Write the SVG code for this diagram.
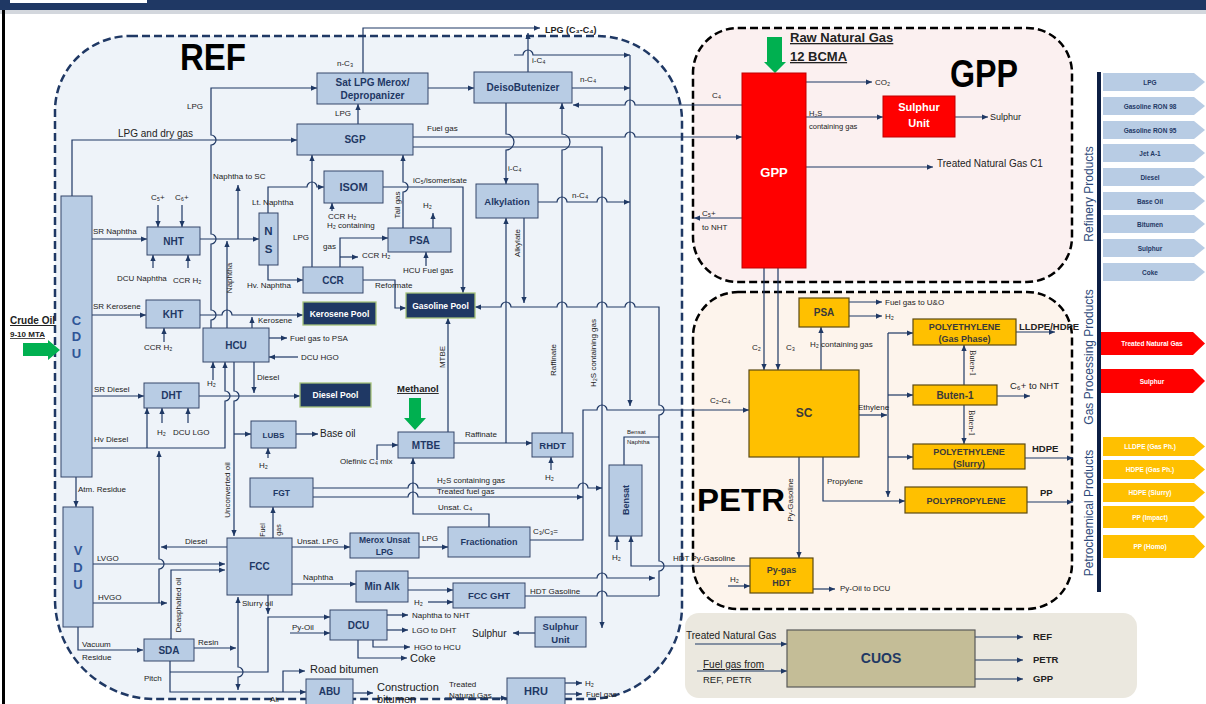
<svg xmlns="http://www.w3.org/2000/svg" width="1206" height="704" viewBox="0 0 1206 704">
<defs>
<marker id="ah" viewBox="0 0 8 8" refX="8" refY="4" markerWidth="6" markerHeight="6" orient="auto" markerUnits="userSpaceOnUse"><path d="M0,0.5 L8,4 L0,7.5 Z" fill="#1f3864"/></marker>
<style>
.n rect{fill:#b8cce4;stroke:#34466a;stroke-width:1}
.n text,.p text,.r text,.y text,.cu text{font-family:"Liberation Sans",Arial,sans-serif;font-weight:bold;text-anchor:middle}
.n text{fill:#1f3864}
.p rect{fill:#1f3864;stroke:#a6c27a;stroke-width:1.3}
.p text{fill:#fff}
.r rect{fill:#ff0000;stroke:#c00000;stroke-width:1}
.r text{fill:#fff}
.y rect{fill:#ffc000;stroke:#5c4a12;stroke-width:1.2}
.y text{fill:#3a3a3a}
.cu rect{fill:#c4bd97;stroke:#595959;stroke-width:1.2}
.cu text{fill:#1f3864}
.l{font-family:"Liberation Sans",Arial,sans-serif;font-size:8px;fill:#222}
.c path{fill:none;stroke:#1f3864;stroke-width:1.2}
.a{marker-end:url(#ah)}
.big{font-family:"Liberation Sans",Arial,sans-serif;font-weight:bold;fill:#000}
.ck{font-family:"Liberation Sans",Arial,sans-serif;font-size:6.5px;font-weight:bold;text-anchor:middle}
.gr{fill:#00b050}
.ttl{font-family:"Liberation Sans",Arial,sans-serif;font-size:12px;fill:#2e4a7a;text-anchor:middle}
</style>
</defs>
<rect width="1206" height="704" fill="#fff"/>
<!-- header -->
<rect x="0" y="0" width="1206" height="10" fill="#1f3864"/>
<rect x="0" y="10" width="1206" height="4" fill="#a8b0bc" opacity="0.5"/>
<rect x="10" y="0" width="137" height="3" fill="#fff"/>
<rect x="2" y="10" width="3" height="694" fill="#000"/>

<!-- regions -->
<g id="regions">
<path d="M130,36 H597 A85,85 0 0 1 682,121 V606 A93,93 0 0 1 589,699 H155 A100,100 0 0 1 55,599 V111 A75,75 0 0 1 130,36 Z" fill="#eef3f9" stroke="#1f3864" stroke-width="2.5" stroke-dasharray="8 4"/>
<path d="M738,28 H1027 A45,45 0 0 1 1072,73 V237 A45,45 0 0 1 1027,282 H738 A45,45 0 0 1 693,237 V73 A45,45 0 0 1 738,28 Z" fill="#fbf0f0" stroke="#000" stroke-width="2.5" stroke-dasharray="8 4"/>
<path d="M738,292 H1027 A45,45 0 0 1 1072,337 V564 A45,45 0 0 1 1027,609 H738 A45,45 0 0 1 693,564 V337 A45,45 0 0 1 738,292 Z" fill="#fdf4ec" stroke="#000" stroke-width="2.5" stroke-dasharray="8 4"/>
<rect x="685" y="613" width="452" height="85" rx="14" fill="#ebe8df"/>
</g>
<text class="big" x="180" y="70" font-size="36" textLength="66" lengthAdjust="spacingAndGlyphs">REF</text>
<text class="big" x="950" y="87" font-size="38" textLength="68" lengthAdjust="spacingAndGlyphs">GPP</text>
<text class="big" x="697" y="511" font-size="32" textLength="88" lengthAdjust="spacingAndGlyphs">PETR</text>

<!-- connectors -->
<g id="connectors" class="c">
<path class="a" d="M211,328 V320 a5,5 0 0 0 0,-10 V244 a5,5 0 0 0 0,-10 V145 a5,5 0 0 0 0,-10 V88 H317"/>
<path class="a" d="M72,196 V140 H297"/>
<path class="a" d="M92,239 H147"/>
<path class="a" d="M158,205 V227"/>
<path class="a" d="M182,205 V227"/>
<path class="a" d="M153,268 V255"/>
<path class="a" d="M188,268 V255"/>
<path class="a" d="M200,239 H259"/>
<path class="a" d="M238,239 V185"/>
<path class="a" d="M227,328 V241"/>
<path class="a" d="M268,213 V187 H307 a5,5 0 0 1 10,0 H324"/>
<path class="a" d="M268,265 V280 H303"/>
<path class="a" d="M312,267 V155"/>
<path class="a" d="M332,211 V203"/>
<path class="a" d="M340,267 V238 H388"/>
<path class="a" d="M340,257 H358"/>
<path class="a" d="M403,228 V192 a5,5 0 0 0 0,-10 V155"/>
<path class="a" d="M383,187 H463 V293"/>
<path class="a" d="M433,228 V213"/>
<path class="a" d="M426,266 V252"/>
<path class="a" d="M363,280 H395 V308 H406"/>
<path class="a" d="M358,124 V104"/>
<path class="a" d="M363,73 V28 H540"/>
<path class="a" d="M428,88 H474"/>
<path class="a" d="M528,72 V33"/>
<path class="a" d="M514,55 H523 a5,5 0 0 1 10,0 H630"/>
<path class="a" d="M572,88 H630"/>
<path class="a" d="M742,105 H635 a5,5 0 0 0 -10,0 H573"/>
<path class="a" d="M413,137 H625 a5,5 0 0 1 10,0 H742"/>
<path class="a" d="M413,147 H602 V628"/>
<path class="a" d="M506,103 V134 a8,8 0 0 1 0,16 V184"/>
<path class="a" d="M562,433 V150 a8,8 0 0 0 0,-16 V103"/>
<path class="a" d="M538,202 H557 a5,5 0 0 1 10,0 H597 a5,5 0 0 1 10,0 H630"/>
<path class="a" d="M524,218 V303"/>
<path class="a" d="M454,443 H532"/>
<path class="a" d="M506,443 V218"/>
<path class="a" d="M659,596 V571 a5,5 0 0 0 0,-10 V415 a5,5 0 0 0 0,-10 V307 H635 a5,5 0 0 0 -10,0 H607 a5,5 0 0 0 -10,0 H567 a5,5 0 0 0 -10,0 H511 a5,5 0 0 0 -10,0 H475"/>
<path class="a" d="M530,540 H583 V410 H597 a5,5 0 0 1 10,0 H749"/>
<path class="a" d="M630,55 V406"/>
<path class="a" d="M313,488 H408 a5,5 0 0 1 10,0 H578 a5,5 0 0 1 10,0 H602"/>
<path class="a" d="M313,497 H408 a5,5 0 0 1 10,0 H583"/>
<path class="a" d="M489,527 V514 H413 V458"/>
<path class="a" d="M377,460 V445 H398"/>
<path class="a" d="M448,432 V318"/>
<path class="a" d="M551,470 V457"/>
<path class="a" d="M92,315 H146"/>
<path class="a" d="M200,315 H222 a5,5 0 0 1 10,0 H303"/>
<path class="a" d="M164,342 V328"/>
<path class="a" d="M252,328 V317"/>
<path class="a" d="M269,338 H287"/>
<path class="a" d="M298,357 H269"/>
<path class="a" d="M213,380 V362"/>
<path class="a" d="M92,448 H225 V401 a5,5 0 0 0 0,-10 V362"/>
<path class="a" d="M234,362 V391 a5,5 0 0 1 0,10 V536"/>
<path class="a" d="M234,434 H251"/>
<path class="a" d="M254,362 V393"/>
<path class="a" d="M92,396 H144"/>
<path class="a" d="M199,396 H300"/>
<path class="a" d="M147,448 V408"/>
<path class="a" d="M162,423 V408"/>
<path class="a" d="M188,423 V408"/>
<path class="a" d="M296,434 H318"/>
<path class="a" d="M268,458 V448"/>
<path class="a" d="M159,603 V569 a5,5 0 0 0 0,-10 V451"/>
<path class="a" d="M227,547 H161"/>
<path class="a" d="M93,564 H225"/>
<path class="a" d="M93,603 H167"/>
<path class="a" d="M171,639 V570 H225"/>
<path class="a" d="M76,477 V507"/>
<path class="a" d="M78,627 V650 H143"/>
<path class="a" d="M194,648 H236"/>
<path class="a" d="M238,648 V597"/>
<path class="a" d="M238,648 V667 a5,5 0 0 1 0,10 V690"/>
<path class="a" d="M273,538 V507"/>
<path class="a" d="M268,595 V614"/>
<path class="a" d="M170,661 V692 H306"/>
<path class="a" d="M170,672 H268 V617 H330"/>
<path class="a" d="M290,633 H330"/>
<path class="a" d="M283,692 V671 H305"/>
<path class="a" d="M353,693 H373"/>
<path class="a" d="M445,698 H507"/>
<path class="a" d="M565,683 H582"/>
<path class="a" d="M565,694 H582"/>
<path class="a" d="M292,547 H350"/>
<path class="a" d="M419,547 H448"/>
<path class="a" d="M292,584 H356"/>
<path class="a" d="M408,590 H453"/>
<path class="a" d="M428,602 H453"/>
<path class="a" d="M408,578 H597 a5,5 0 0 1 10,0 H655"/>
<path d="M525,596 H597 a5,5 0 0 1 10,0 H659"/>
<path class="a" d="M387,615 H408"/>
<path class="a" d="M387,630 H408"/>
<path class="a" d="M373,640 V647 H410"/>
<path class="a" d="M358,640 V658 H407"/>
<path class="a" d="M535,633 H513"/>
<path d="M624,465 V437 H659"/>
<path class="a" d="M750,566 H631 V536"/>
<path class="a" d="M617,550 V536"/>
<path class="a" d="M742,218 H694"/>
<!-- GPP -->
<path class="a" d="M806,82 H872"/>
<path class="a" d="M806,117 H883"/>
<path class="a" d="M955,117 H988"/>
<path class="a" d="M806,167 H933"/>
<path class="a" d="M764,268 V370"/>
<path class="a" d="M778,268 V370"/>
<!-- PETR -->
<path class="a" d="M821,370 V327"/>
<path class="a" d="M849,302 H882"/>
<path class="a" d="M849,316 H882"/>
<path class="a" d="M859,415 H887"/>
<path class="a" d="M888,333 V497"/>
<path class="a" d="M888,333 H913"/>
<path class="a" d="M888,395 H913"/>
<path class="a" d="M888,457 H913"/>
<path class="a" d="M1016,332 H1055"/>
<path class="a" d="M964,385 V345"/>
<path class="a" d="M964,405 V444"/>
<path class="a" d="M997,396 H1030"/>
<path class="a" d="M1025,458 H1073"/>
<path class="a" d="M1027,502 H1073"/>
<path class="a" d="M823,457 V501 H905"/>
<path class="a" d="M799,457 V558"/>
<path class="a" d="M728,586 H750"/>
<path class="a" d="M813,589 H835"/>
<!-- CUOS -->
<path class="a" d="M695,644 H787"/>
<path class="a" d="M697,671 H787"/>
<path class="a" d="M975,637 H1023"/>
<path class="a" d="M975,660 H1023"/>
<path class="a" d="M975,679 H1023"/>
</g>

<!-- green feed arrows -->
<polygon class="gr" points="23,343 48,343 48,340 60,350 48,360 48,356 23,356"/>
<polygon class="gr" points="767,37 782,37 782,62 786,62 775,73 764,62 767,62"/>
<polygon class="gr" points="409,398 421,398 421,418 426,418 415,430 404,418 409,418"/>

<!-- REF nodes -->
<g id="n-cdu" class="n"><rect x="61" y="196" width="31" height="281"/><text x="76.5" y="325" font-size="13" style="fill:#2f5597">C</text><text x="76.5" y="341" font-size="13" style="fill:#2f5597">D</text><text x="76.5" y="358" font-size="13" style="fill:#2f5597">U</text></g>
<g id="n-vdu" class="n"><rect x="63" y="507" width="30" height="120"/><text x="78" y="555" font-size="13" style="fill:#2f5597">V</text><text x="78" y="572" font-size="13" style="fill:#2f5597">D</text><text x="78" y="589" font-size="13" style="fill:#2f5597">U</text></g>
<g id="n-nht" class="n"><rect x="147" y="227" width="53" height="28"/><text x="173.5" y="244.5" font-size="10">NHT</text></g>
<g id="n-kht" class="n"><rect x="146" y="300" width="54" height="28"/><text x="173" y="317.5" font-size="10">KHT</text></g>
<g id="n-dht" class="n"><rect x="144" y="383" width="55" height="25"/><text x="171.5" y="399" font-size="10">DHT</text></g>
<g id="n-hcu" class="n"><rect x="203" y="328" width="66" height="34"/><text x="236" y="348.5" font-size="10">HCU</text></g>
<g id="n-ns" class="n"><rect x="259" y="213" width="19" height="52"/><text x="268.5" y="235" font-size="11.5">N</text><text x="268.5" y="253" font-size="11.5">S</text></g>
<g id="n-isom" class="n"><rect x="324" y="171" width="59" height="32"/><text x="353.5" y="191" font-size="11">ISOM</text></g>
<g id="n-sgp" class="n"><rect x="297" y="124" width="116" height="31"/><text x="355" y="143" font-size="10">SGP</text></g>
<g id="n-satlpg" class="n"><rect x="317" y="73" width="111" height="31"/><text x="372.5" y="86" font-size="10">Sat LPG Merox/</text><text x="372.5" y="99" font-size="10">Depropanizer</text></g>
<g id="n-deiso" class="n"><rect x="474" y="72" width="98" height="31"/><text x="523" y="91" font-size="10">DeisoButenizer</text></g>
<g id="n-alky" class="n"><rect x="476" y="184" width="62" height="34"/><text x="507" y="204.5" font-size="9.5">Alkylation</text></g>
<g id="n-psa-ref" class="n"><rect x="388" y="228" width="63" height="24"/><text x="419.5" y="243.5" font-size="10">PSA</text></g>
<g id="n-ccr" class="n"><rect x="303" y="267" width="60" height="26"/><text x="333" y="283.5" font-size="10">CCR</text></g>
<g id="n-lubs" class="n"><rect x="251" y="421" width="45" height="27"/><text x="273.5" y="437.5" font-size="8">LUBS</text></g>
<g id="n-mtbe" class="n"><rect x="398" y="432" width="56" height="26"/><text x="426" y="448.5" font-size="10">MTBE</text></g>
<g id="n-rhdt" class="n"><rect x="532" y="433" width="41" height="24"/><text x="552.5" y="448.5" font-size="9.5">RHDT</text></g>
<g id="n-fgt" class="n"><rect x="250" y="478" width="63" height="29"/><text x="281.5" y="495.5" font-size="8.5">FGT</text></g>
<g id="n-fcc" class="n"><rect x="227" y="538" width="65" height="57"/><text x="259.5" y="570" font-size="10">FCC</text></g>
<g id="n-merox" class="n"><rect x="350" y="533" width="69" height="25"/><text x="384.5" y="543" font-size="8.5">Merox Unsat</text><text x="384.5" y="555" font-size="8.5">LPG</text></g>
<g id="n-frac" class="n"><rect x="448" y="527" width="82" height="30"/><text x="489" y="545" font-size="9">Fractionation</text></g>
<g id="n-minalk" class="n"><rect x="356" y="571" width="52" height="31"/><text x="382" y="590" font-size="10">Min Alk</text></g>
<g id="n-fccght" class="n"><rect x="453" y="583" width="72" height="25"/><text x="489" y="599" font-size="9.5">FCC GHT</text></g>
<g id="n-dcu" class="n"><rect x="330" y="610" width="57" height="30"/><text x="358.5" y="628.5" font-size="10">DCU</text></g>
<g id="n-su-ref" class="n"><rect x="535" y="617" width="51" height="30"/><text x="560.5" y="630" font-size="9.5">Sulphur</text><text x="560.5" y="643" font-size="9.5">Unit</text></g>
<g id="n-sda" class="n"><rect x="144" y="639" width="50" height="22"/><text x="169" y="653.5" font-size="10">SDA</text></g>
<g id="n-abu" class="n"><rect x="306" y="679" width="47" height="28"/><text x="329.5" y="695" font-size="10">ABU</text></g>
<g id="n-hru" class="n"><rect x="507" y="678" width="58" height="28"/><text x="536" y="695" font-size="11">HRU</text></g>
<g id="n-bensat" class="n"><rect x="609" y="465" width="33" height="71"/><text transform="translate(629,500) rotate(-90)" font-size="9">Bensat</text></g>
<g id="n-kpool" class="p"><rect x="303" y="302" width="73" height="23"/><text x="339.5" y="316.5" font-size="8.5">Kerosene Pool</text></g>
<g id="n-gpool" class="p"><rect x="406" y="293" width="69" height="25"/><text x="440.5" y="308.5" font-size="8.5">Gasoline Pool</text></g>
<g id="n-dpool" class="p"><rect x="300" y="383" width="71" height="24"/><text x="335.5" y="398" font-size="8.5">Diesel Pool</text></g>

<!-- GPP nodes -->
<g id="n-gpp" class="r"><rect x="742" y="73" width="64" height="195"/><text x="774" y="177" font-size="13">GPP</text></g>
<g id="n-su-gpp" class="r"><rect x="883" y="96" width="72" height="41"/><text x="919" y="111" font-size="11">Sulphur</text><text x="919" y="127" font-size="11">Unit</text></g>

<!-- PETR nodes -->
<g id="n-sc" class="y"><rect x="749" y="370" width="110" height="87"/><text x="804" y="417" font-size="12">SC</text></g>
<g id="n-psa-petr" class="y"><rect x="799" y="298" width="50" height="29"/><text x="824" y="316" font-size="10">PSA</text></g>
<g id="n-pe-gas" class="y"><rect x="913" y="319" width="103" height="26"/><text x="964.5" y="329.5" font-size="9">POLYETHYLENE</text><text x="964.5" y="341.5" font-size="9">(Gas Phase)</text></g>
<g id="n-buten" class="y"><rect x="913" y="385" width="84" height="20"/><text x="955" y="398.5" font-size="10">Buten-1</text></g>
<g id="n-pe-slurry" class="y"><rect x="913" y="444" width="112" height="25"/><text x="969" y="455" font-size="9">POLYETHYLENE</text><text x="969" y="467" font-size="9">(Slurry)</text></g>
<g id="n-pp" class="y"><rect x="905" y="487" width="122" height="26"/><text x="966" y="503.5" font-size="9">POLYPROPYLENE</text></g>
<g id="n-pygas" class="y"><rect x="750" y="558" width="63" height="35"/><text x="781.5" y="573" font-size="9">Py-gas</text><text x="781.5" y="586" font-size="9">HDT</text></g>

<!-- CUOS -->
<g id="n-cuos" class="cu"><rect x="787" y="630" width="188" height="57"/><text x="881" y="663" font-size="14">CUOS</text></g>

<!-- labels -->
<g id="labels" class="l">
<text x="10" y="324" font-size="10" font-weight="bold" text-decoration="underline">Crude Oil</text>
<text x="10" y="337" font-size="8" font-weight="bold" text-decoration="underline">9-10 MTA</text>
<text x="187" y="109">LPG</text>
<text x="118" y="136.5" font-size="10">LPG and dry gas</text>
<text x="213" y="179">Naphtha to SC</text>
<text x="151" y="200">C₅+</text>
<text x="175" y="200">C₆+</text>
<text x="252" y="205">Lt. Naphtha</text>
<text x="93" y="234">SR Naphtha</text>
<text x="293" y="240">LPG</text>
<text x="117" y="281">DCU Naphtha</text>
<text x="173" y="283">CCR H₂</text>
<text transform="translate(232,278) rotate(-90)" text-anchor="middle">Naphtha</text>
<text x="247" y="288">Hv. Naphtha</text>
<text x="93" y="309">SR Kerosene</text>
<text x="258" y="323">Kerosene</text>
<text x="144" y="350">CCR H₂</text>
<text x="290" y="341">Fuel gas to PSA</text>
<text x="301" y="360">DCU HGO</text>
<text x="207" y="386">H₂</text>
<text x="257" y="380">Diesel</text>
<text x="94" y="392">SR Diesel</text>
<text x="157" y="435">H₂</text>
<text x="173" y="435">DCU LGO</text>
<text x="94" y="442">Hv Diesel</text>
<text x="320" y="437" font-size="10">Base oil</text>
<text x="259" y="468">H₂</text>
<text x="78" y="492">Atm. Residue</text>
<text transform="translate(230,490) rotate(-90)" text-anchor="middle">Unconverted oil</text>
<text transform="translate(265,530) rotate(-90)" text-anchor="middle" font-size="7">Fuel</text>
<text transform="translate(281,530) rotate(-90)" text-anchor="middle" font-size="7">gas</text>
<text x="97" y="561">LVGO</text>
<text x="98" y="600">HVGO</text>
<text x="185" y="544">Diesel</text>
<text transform="translate(181,605) rotate(-90)" text-anchor="middle">Deasphalted oil</text>
<text x="242" y="606">Slurry oil</text>
<text x="82" y="647">Vacuum</text>
<text x="82" y="660">Residue</text>
<text x="198" y="645">Resin</text>
<text x="144" y="681">Pitch</text>
<text x="292" y="630">Py-Oil</text>
<text x="270" y="702">Air</text>
<text x="310" y="673" font-size="11">Road bitumen</text>
<text x="377" y="691" font-size="11">Construction</text>
<text x="377" y="703" font-size="11">bitumen</text>
<text x="449" y="687">Treated</text>
<text x="449" y="698">Natural Gas</text>
<text x="585" y="686">H₂</text>
<text x="586" y="697">Fuel gas</text>
<text x="297" y="544">Unsat. LPG</text>
<text x="422" y="541">LPG</text>
<text x="438" y="510">Unsat. C₄</text>
<text x="533" y="534">C₃/C₃=</text>
<text x="437" y="483">H₂S containing gas</text>
<text x="437" y="494">Treated fuel gas</text>
<text x="545" y="480">H₂</text>
<text x="303" y="580">Naphtha</text>
<text x="530" y="594">HDT Gasoline</text>
<text x="414" y="605">H₂</text>
<text x="412" y="618">Naphtha to NHT</text>
<text x="412" y="633">LGO to DHT</text>
<text x="414" y="650">HGO to HCU</text>
<text x="410" y="662" font-size="11">Coke</text>
<text x="472" y="637" font-size="10">Sulphur</text>
<text x="627" y="434" font-size="6">Bensat</text>
<text x="627" y="444" font-size="6">Naphtha</text>
<text x="612" y="560">H₂</text>
<text x="673" y="561">HDT Py-Gasoline</text>
<text x="710" y="403">C₂-C₄</text>
<text x="340" y="464">Olefinic C₄ mix</text>
<text x="465" y="437">Raffinate</text>
<text x="397" y="392" font-size="9.5" font-weight="bold" text-decoration="underline">Methanol</text>
<text transform="translate(445,357) rotate(-90)" text-anchor="middle">MTBE</text>
<text transform="translate(556,360) rotate(-90)" text-anchor="middle">Raffinate</text>
<text transform="translate(596,353) rotate(-90)" text-anchor="middle">H₂S containing gas</text>
<text transform="translate(520,243) rotate(-90)" text-anchor="middle">Alkylate</text>
<text transform="translate(400,205) rotate(-90)" text-anchor="middle">Tail gas</text>
<text x="375" y="288">Reformate</text>
<text x="403" y="273">HCU Fuel gas</text>
<text x="362" y="258">CCR H₂</text>
<text x="327" y="228">H₂ containing</text>
<text x="323" y="249">gas</text>
<text x="328" y="219">CCR H₂</text>
<text x="423" y="208">H₂</text>
<text x="413" y="183">iC₅/isomerisate</text>
<text x="427" y="131">Fuel gas</text>
<text x="335" y="116">LPG</text>
<text x="337" y="66">n-C₃</text>
<text x="545" y="33" font-size="9" font-weight="bold">LPG (C₃-C₄)</text>
<text x="532" y="63">i-C₄</text>
<text x="580" y="82">n-C₄</text>
<text x="508" y="171">i-C₄</text>
<text x="572" y="198">n-C₄</text>
<text x="712" y="98">C₄</text>
<!-- GPP labels -->
<text x="790" y="42" font-size="13" font-weight="bold" text-decoration="underline">Raw Natural Gas</text>
<text x="790" y="61" font-size="13" font-weight="bold" text-decoration="underline">12 BCMA</text>
<text x="875" y="85">CO₂</text>
<text x="809" y="116" font-size="7.5">H₂S</text>
<text x="809" y="129" font-size="7.5">containing gas</text>
<text x="990" y="120" font-size="9">Sulphur</text>
<text x="937" y="167" font-size="10">Treated Natural  Gas C1</text>
<text x="702" y="216">C₅+</text>
<text x="702" y="230">to NHT</text>
<text x="752" y="350">C₂</text>
<text x="786" y="350">C₃</text>
<!-- PETR labels -->
<text x="885" y="305">Fuel gas to U&amp;O</text>
<text x="885" y="319">H₂</text>
<text x="810" y="347">H₂ containing gas</text>
<text x="858" y="410">Ethylene</text>
<text x="1019" y="330" font-size="9.5" font-weight="bold">LLDPE/HDPE</text>
<text transform="translate(970,363) rotate(90)" text-anchor="middle" font-family="Liberation Serif, serif">Buten-1</text>
<text transform="translate(969,423) rotate(90)" text-anchor="middle" font-family="Liberation Serif, serif">Buten-1</text>
<text x="1010" y="389" font-size="9.5">C₆+ to NHT</text>
<text x="1032" y="452" font-size="9.5" font-weight="bold">HDPE</text>
<text x="1040" y="496" font-size="9.5" font-weight="bold">PP</text>
<text x="827" y="484">Propylene</text>
<text transform="translate(793,500) rotate(-90)" text-anchor="middle">Py-Gasoline</text>
<text x="730" y="582">H₂</text>
<text x="840" y="591">Py-Oil to DCU</text>
<!-- CUOS labels -->
<text x="686" y="639" font-size="10">Treated Natural  Gas</text>
<text x="703" y="668" font-size="10" text-decoration="underline">Fuel gas from</text>
<text x="703" y="683" font-size="9.5">REF, PETR</text>
<text x="1033" y="640" font-size="9.5" font-weight="bold">REF</text>
<text x="1033" y="663" font-size="9.5" font-weight="bold">PETR</text>
<text x="1033" y="682" font-size="9.5" font-weight="bold">GPP</text>
</g>

<!-- product legend -->
<g id="products">
<rect x="1097" y="72" width="4" height="520" fill="#0d1f44"/>
<text class="ttl" transform="translate(1093,194) rotate(-90)">Refinery Products</text>
<text class="ttl" transform="translate(1093,357) rotate(-90)">Gas Processing Products</text>
<text class="ttl" transform="translate(1093,513) rotate(-90)">Petrochemical Products</text>
<g fill="#b8cce4">
<path d="M1103,73 H1194 L1205,82 L1194,91 H1103 Z"/>
<path d="M1103,97 H1194 L1205,106 L1194,115 H1103 Z"/>
<path d="M1103,121 H1194 L1205,130 L1194,139 H1103 Z"/>
<path d="M1103,144 H1194 L1205,153 L1194,162 H1103 Z"/>
<path d="M1103,168 H1194 L1205,177 L1194,186 H1103 Z"/>
<path d="M1103,192 H1194 L1205,201 L1194,210 H1103 Z"/>
<path d="M1103,215 H1194 L1205,224 L1194,233 H1103 Z"/>
<path d="M1103,239 H1194 L1205,248 L1194,257 H1103 Z"/>
<path d="M1103,263 H1194 L1205,272 L1194,281 H1103 Z"/>
</g>
<g class="ck" fill="#1f3864">
<text x="1150" y="84.5">LPG</text>
<text x="1150" y="108.5">Gasoline RON 98</text>
<text x="1150" y="132.5">Gasoline RON 95</text>
<text x="1150" y="155.5">Jet A-1</text>
<text x="1150" y="179.5">Diesel</text>
<text x="1150" y="203.5">Base Oil</text>
<text x="1150" y="226.5">Bitumen</text>
<text x="1150" y="250.5">Sulphur</text>
<text x="1150" y="274.5">Coke</text>
</g>
<g fill="#ff0000">
<path d="M1101,332 H1193 L1205,343.5 L1193,355 H1101 Z"/>
<path d="M1101,369 H1193 L1205,381 L1193,393 H1101 Z"/>
</g>
<g class="ck" fill="#fff">
<text x="1152" y="346">Treated Natural Gas</text>
<text x="1152" y="383.5">Sulphur</text>
</g>
<g fill="#ffc000">
<path d="M1103,437 H1194 L1205,446.5 L1194,456 H1103 Z"/>
<path d="M1103,460 H1194 L1205,469.5 L1194,479 H1103 Z"/>
<path d="M1103,483 H1194 L1205,492.5 L1194,502 H1103 Z"/>
<path d="M1103,506 H1194 L1205,517 L1194,528 H1103 Z"/>
<path d="M1103,535 H1194 L1205,546.5 L1194,558 H1103 Z"/>
</g>
<g class="ck" fill="#fff">
<text x="1150" y="449">LLDPE (Gas Ph.)</text>
<text x="1150" y="472">HDPE (Gas Ph.)</text>
<text x="1150" y="495">HDPE (Slurry)</text>
<text x="1150" y="519.5">PP (Impact)</text>
<text x="1150" y="549">PP (Homo)</text>
</g>
</g>
</svg>
